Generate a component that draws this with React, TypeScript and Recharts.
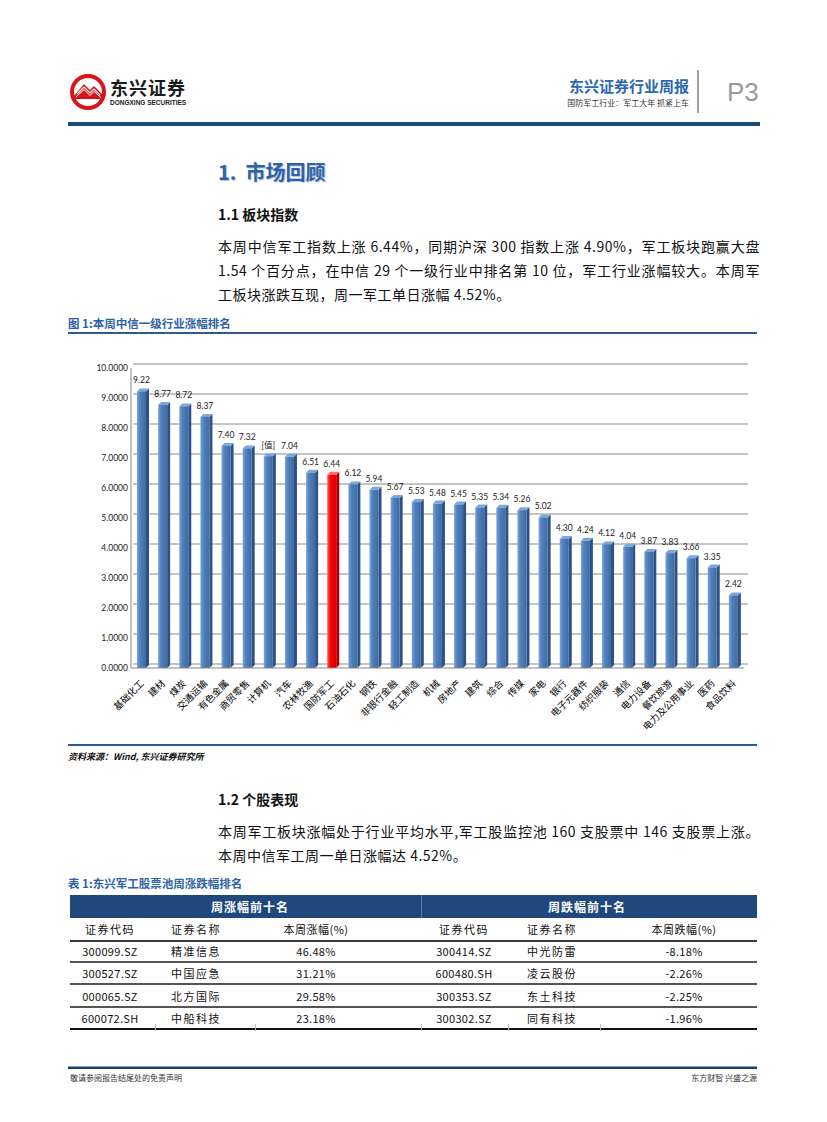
import React from "react";
import { BarChart, Bar, XAxis, YAxis, CartesianGrid, LabelList } from "recharts";

const categories = [
  "基础化工", "建材", "煤炭", "交通运输", "有色金属", "商贸零售", "计算机", "汽车", "农林牧渔", "国防军工",
  "石油石化", "钢铁", "非银行金融", "轻工制造", "机械", "房地产", "建筑", "综合", "传媒", "家电",
  "银行", "电子元器件", "纺织服装", "通信", "电力设备", "餐饮旅游", "电力及公用事业", "医药", "食品饮料",
];
const values = [
  9.22, 8.77, 8.72, 8.37, 7.4, 7.32, 7.06, 7.04, 6.51, 6.44,
  6.12, 5.94, 5.67, 5.53, 5.48, 5.45, 5.35, 5.34, 5.26, 5.02,
  4.3, 4.24, 4.12, 4.04, 3.87, 3.83, 3.66, 3.35, 2.42,
];
// the source chart shows a broken label on 计算机
const barLabels = values.map((v, i) => (i === 6 ? "[值]" : v.toFixed(2)));
const highlight = "国防军工";
const yTicks = [0, 1, 2, 3, 4, 5, 6, 7, 8, 9, 10];

const gainCodes = ["300099.SZ", "300527.SZ", "000065.SZ", "600072.SH"];
const gainNames = ["精准信息", "中国应急", "北方国际", "中船科技"];
const gainPct = ["46.48%", "31.21%", "29.58%", "23.18%"];
const lossCodes = ["300414.SZ", "600480.SH", "300353.SZ", "300302.SZ"];
const lossNames = ["中光防雷", "凌云股份", "东土科技", "同有科技"];
const lossPct = ["-8.18%", "-2.26%", "-2.25%", "-1.96%"];

const chartData = categories.map((name, i) => ({ name, value: values[i], label: barLabels[i] }));

const CJK = "'Noto Sans CJK SC', 'Noto Sans', sans-serif";

function Bar3D(props: any) {
  const { x, y, width, height, index, payload } = props;
  if (height == null || height <= 0) return null;
  const red = payload && payload.name === highlight;
  const d = 3;
  const id = `g${index}`;
  const front = red ? ["#ff5a5a", "#ff0000", "#d40000"] : ["#7aa3d8", "#4f81bd", "#3f6aa3"];
  const side = red ? "#a80000" : "#2d5183";
  const top = red ? "#ff6a6a" : "#7fa6da";
  return (
    <g>
      <defs>
        <linearGradient id={id} x1="0" y1="0" x2="1" y2="0">
          <stop offset="0" stopColor={front[0]} />
          <stop offset="0.35" stopColor={front[1]} />
          <stop offset="1" stopColor={front[2]} />
        </linearGradient>
      </defs>
      <polygon
        points={`${x + width},${y} ${x + width + d},${y - d} ${x + width + d},${y + height - d} ${x + width},${y + height}`}
        fill={side}
      />
      <polygon
        points={`${x},${y} ${x + d},${y - d} ${x + width + d},${y - d} ${x + width},${y}`}
        fill={top}
      />
      <rect x={x} y={y} width={width} height={height} fill={`url(#${id})`} />
    </g>
  );
}

function XTick(props: any) {
  const { x, y, payload } = props;
  return (
    <g transform={`translate(${x + 3},${y + 8})`}>
      <text
        x={0}
        y={0}
        transform="rotate(-45)"
        textAnchor="end"
        fontSize={9.5}
        fill="#000"
        fontFamily={CJK}
      >
        {payload.value}
      </text>
    </g>
  );
}

function gridLine(p: any) {
  return (
    <line
      key={`grid-${p.index}`}
      x1={p.x1 + 2}
      y1={p.y1 - 4}
      x2={p.x2 + 4}
      y2={p.y2 - 4}
      stroke="#8a8a8a"
      strokeWidth={1}
    />
  );
}

function Txt({ left, top, size, children, style }: any) {
  return (
    <div
      style={{
        position: "absolute",
        left,
        top,
        fontSize: size,
        lineHeight: `${Math.round(size * 1.3)}px`,
        whiteSpace: "nowrap",
        ...style,
      }}
    >
      {children}
    </div>
  );
}

function JLine({ top, text, last }: any) {
  return (
    <div
      style={{
        position: "absolute",
        left: 218,
        width: 542,
        top,
        fontSize: 14,
        lineHeight: "20px",
        color: "#111",
        textAlign: last ? "left" : "justify",
        textAlignLast: last ? "left" : "justify",
        whiteSpace: "nowrap",
        letterSpacing: 0.5,
      } as any}
    >
      {text}
    </div>
  );
}

function Cell({ cx, cy, text, style }: any) {
  return (
    <div
      style={{
        position: "absolute",
        left: cx - 60,
        width: 120,
        top: cy - 9,
        height: 18,
        lineHeight: "18px",
        textAlign: "center",
        fontSize: 11,
        color: "#111",
        letterSpacing: 1.5,
        ...style,
      }}
    >
      {text}
    </div>
  );
}

function HLine({ top, left = 68, width = 689, h = 1, color = "#444" }: any) {
  return <div style={{ position: "absolute", left, top, width, height: h, background: color }} />;
}

function Logo() {
  return (
    <svg width={40} height={40} style={{ position: "absolute", left: 68, top: 72 }}>
      <circle cx={20} cy={20} r={16} fill="#fff" stroke="#d7141a" strokeWidth={4} />
      <path d="M6 24 L16 12 L22 18 L26 14 L34 22 L34 27 L6 27 Z" fill="#d7141a" />
      <path d="M9 22 L16 15 L22 21 L26 17 L32 23" fill="none" stroke="#fff" strokeWidth={1.2} />
      <path d="M8 25 L16 17.5 L22 23.5 L26 19.5 L33 25.5" fill="none" stroke="#fff" strokeWidth={1} />
    </svg>
  );
}

export default function App() {
  const gainX = [110, 196, 316];
  const lossX = [464, 552, 684];
  const rowY = [951, 973, 996, 1018];
  return (
    <div
      style={{
        position: "absolute",
        left: 0,
        top: 0,
        width: 827,
        height: 1122,
        background: "#fff",
        fontFamily: CJK,
        overflow: "hidden",
      }}
    >
      {/* header */}
      <Logo />
      <Txt left={110} top={76} size={18} style={{ fontWeight: 700, color: "#1a1a1a", letterSpacing: 1 }}>
        东兴证券
      </Txt>
      <Txt left={110} top={99} size={6.5} style={{ fontWeight: 700, color: "#222", fontFamily: "'Liberation Sans', sans-serif" }}>
        DONGXING SECURITIES
      </Txt>
      <div style={{ position: "absolute", right: 827 - 689, top: 76, fontSize: 15, fontWeight: 700, color: "#2c68ad", lineHeight: "20px", whiteSpace: "nowrap" }}>
        东兴证券行业周报
      </div>
      <div style={{ position: "absolute", right: 827 - 689, top: 97, fontSize: 8, color: "#333", lineHeight: "12px", whiteSpace: "nowrap" }}>
        国防军工行业：军工大年 抓紧上车
      </div>
      <div style={{ position: "absolute", left: 697, top: 70, width: 1.5, height: 43, background: "#a0a0a0" }} />
      <Txt left={727} top={76} size={26} style={{ color: "#9a9a9a", fontFamily: "'Liberation Sans', sans-serif", lineHeight: "32px" }}>
        P3
      </Txt>
      <HLine top={122} left={68} width={692} h={4} color="#1d4a7c" />

      {/* section 1 */}
      <Txt left={218} top={159} size={20} style={{ fontWeight: 700, color: "#2e62a6", textShadow: "1px 1px 0 #b9c9e0" }}>
        1.&nbsp;&nbsp;市场回顾
      </Txt>
      <Txt left={218} top={205} size={14} style={{ fontWeight: 700, color: "#111" }}>
        1.1 板块指数
      </Txt>
      <JLine top={236} text="本周中信军工指数上涨 6.44%，同期沪深 300 指数上涨 4.90%，军工板块跑赢大盘" />
      <JLine top={260} text="1.54 个百分点，在中信 29 个一级行业中排名第 10 位，军工行业涨幅较大。本周军" />
      <JLine top={284} text="工板块涨跌互现，周一军工单日涨幅 4.52%。" last />

      <Txt left={68} top={316} size={11.5} style={{ fontWeight: 700, color: "#2e62a6" }}>
        图 1:本周中信一级行业涨幅排名
      </Txt>
      <HLine top={332} h={1.5} color="#2f5a8c" />

      {/* chart */}
      <div style={{ position: "absolute", left: 60, top: 340 }}>
        <BarChart
          width={700}
          height={410}
          data={chartData}
          margin={{ top: 28, right: 16, bottom: 0, left: 0 }}
          barCategoryGap={0}
        >
          <CartesianGrid vertical={false} horizontal={gridLine as any} />
          <XAxis
            dataKey="name"
            interval={0}
            height={82}
            tick={<XTick />}
            tickLine={false}
            axisLine={{ stroke: "#868686" }}
          />
          <YAxis
            domain={[0, 10]}
            ticks={yTicks}
            width={71}
            tickSize={0}
            tickMargin={3}
            tickFormatter={(v: number) => v.toFixed(4)}
            tick={{ fontSize: 8.5, fill: "#222", fontFamily: "Lato, 'Liberation Sans', sans-serif" }}
            axisLine={{ stroke: "#868686" }}
          />
          <Bar dataKey="value" barSize={9} shape={<Bar3D />} isAnimationActive={false}>
            <LabelList
              dataKey="label"
              position="top"
              offset={8}
              style={{ fontSize: 8.5, fill: "#222", fontFamily: "Lato, 'Noto Sans CJK SC', sans-serif" }}
            />
          </Bar>
        </BarChart>
      </div>

      <HLine top={744} h={1.5} color="#2f5a8c" />
      <Txt left={68} top={751} size={9} style={{ fontWeight: 700, fontStyle: "italic", color: "#111" }}>
        资料来源：Wind, 东兴证券研究所
      </Txt>

      {/* section 1.2 */}
      <Txt left={218} top={790} size={14} style={{ fontWeight: 700, color: "#111" }}>
        1.2 个股表现
      </Txt>
      <JLine top={821} text="本周军工板块涨幅处于行业平均水平,军工股监控池 160 支股票中 146 支股票上涨。" />
      <JLine top={845} text="本周中信军工周一单日涨幅达 4.52%。" last />

      <Txt left={68} top={876} size={11.5} style={{ fontWeight: 700, color: "#2e62a6" }}>
        表 1:东兴军工股票池周涨跌幅排名
      </Txt>

      {/* table */}
      <div style={{ position: "absolute", left: 70, top: 895, width: 687, height: 23, background: "#1f497d" }} />
      <div style={{ position: "absolute", left: 421, top: 895, width: 1, height: 23, background: "#5a7fae" }} />
      <Cell cx={250} cy={906.5} text="周涨幅前十名" style={{ color: "#fff", fontWeight: 700, fontSize: 12, letterSpacing: 1, width: 160, left: 170 }} />
      <Cell cx={587} cy={906.5} text="周跌幅前十名" style={{ color: "#fff", fontWeight: 700, fontSize: 12, letterSpacing: 1, width: 160, left: 507 }} />
      <Cell cx={gainX[0]} cy={929} text="证券代码" />
      <Cell cx={gainX[1]} cy={929} text="证券名称" />
      <Cell cx={gainX[2]} cy={929} text="本周涨幅(%)" style={{ letterSpacing: 0.5 }} />
      <Cell cx={lossX[0]} cy={929} text="证券代码" />
      <Cell cx={lossX[1]} cy={929} text="证券名称" />
      <Cell cx={lossX[2]} cy={929} text="本周跌幅(%)" style={{ letterSpacing: 0.5 }} />
      <HLine top={939.5} left={70} width={687} h={2} color="#3a3a3a" />
      {rowY.map((cy, i) => (
        <React.Fragment key={i}>
          <Cell cx={gainX[0]} cy={cy} text={gainCodes[i]} style={{ letterSpacing: 0.3 }} />
          <Cell cx={gainX[1]} cy={cy} text={gainNames[i]} />
          <Cell cx={gainX[2]} cy={cy} text={gainPct[i]} style={{ letterSpacing: 0.3 }} />
          <Cell cx={lossX[0]} cy={cy} text={lossCodes[i]} style={{ letterSpacing: 0.3 }} />
          <Cell cx={lossX[1]} cy={cy} text={lossNames[i]} />
          <Cell cx={lossX[2]} cy={cy} text={lossPct[i]} style={{ letterSpacing: 0.3 }} />
          <HLine top={cy + 10} left={70} width={687} h={i === 3 ? 2 : 1.5} color={i === 3 ? "#111" : "#555"} />
        </React.Fragment>
      ))}
      {[155, 255, 421, 508, 600].map((x) => (
        <div key={x} style={{ position: "absolute", left: x, top: 1024, width: 1, height: 7, background: "#bbb" }} />
      ))}

      {/* footer */}
      <HLine top={1066} left={68} width={689} h={1} color="#7ea6d3" />
      <HLine top={1067} left={68} width={689} h={2} color="#1d3f66" />
      <Txt left={70} top={1073} size={8} style={{ color: "#333" }}>
        敬请参阅报告结尾处的免责声明
      </Txt>
      <div style={{ position: "absolute", right: 827 - 757, top: 1073, fontSize: 8, lineHeight: "10px", color: "#333", whiteSpace: "nowrap" }}>
        东方财智 兴盛之源
      </div>
    </div>
  );
}
